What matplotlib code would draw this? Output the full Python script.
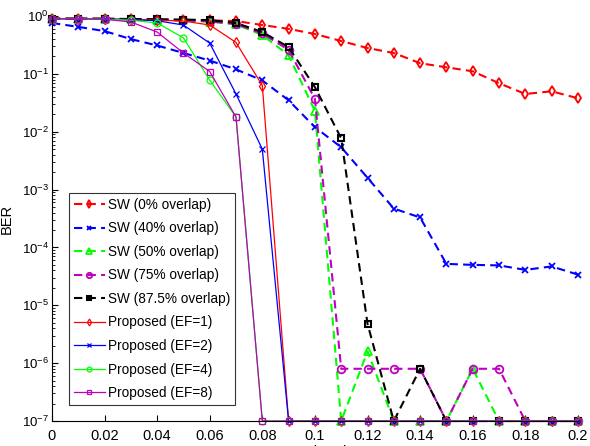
import matplotlib
matplotlib.use("Agg")
import matplotlib.pyplot as plt
from matplotlib.ticker import FixedLocator, LogLocator, NullFormatter

plt.rcParams['font.family'] = ['Liberation Sans', 'DejaVu Sans']
plt.rcParams['mathtext.fontset'] = 'custom'
plt.rcParams['mathtext.rm'] = 'Liberation Sans'
plt.rcParams['mathtext.it'] = 'Liberation Sans'

# overhead values on the x axis
overhead = [0.0, 0.01, 0.02, 0.03, 0.04, 0.05, 0.06, 0.07, 0.08, 0.09, 0.10,
            0.11, 0.12, 0.13, 0.14, 0.15, 0.16, 0.17, 0.18, 0.19, 0.20]

# sliding window curves (dashed)
sw_0 = [0.9, 0.9, 0.9, 0.88, 0.87, 0.85, 0.84, 0.82, 0.70, 0.60, 0.49,
        0.37, 0.28, 0.23, 0.153, 0.13, 0.111, 0.069, 0.045, 0.05, 0.038]
sw_40 = [0.76, 0.65, 0.55, 0.40, 0.31, 0.23, 0.17, 0.12, 0.077, 0.035, 0.012,
         0.0054, 0.0016, 0.00047, 0.00033, 5.2e-5, 5.0e-5, 4.9e-5, 4.1e-5, 4.7e-5, 3.4e-5]
sw_50 = [0.9, 0.9, 0.89, 0.88, 0.86, 0.84, 0.80, 0.72, 0.47, 0.21, 0.023,
         1e-7, 1.6e-6, 1e-7, 1e-7, 1e-7, 8e-7, 1e-7, 1e-7, 1e-7, 1e-7]
sw_75 = [0.9, 0.9, 0.89, 0.88, 0.86, 0.84, 0.81, 0.73, 0.50, 0.26, 0.037,
         8e-7, 8e-7, 8e-7, 8e-7, 1e-7, 8e-7, 8e-7, 1e-7, 1e-7, 1e-7]
sw_875 = [0.9, 0.9, 0.9, 0.89, 0.88, 0.87, 0.85, 0.76, 0.53, 0.29, 0.059,
          0.0077, 4.8e-6, 1e-7, 8e-7, 1e-7, 1e-7, 1e-7, 1e-7, 1e-7, 1e-7]

# proposed scheme curves (solid)
ef_1 = [0.9, 0.9, 0.89, 0.87, 0.85, 0.82, 0.70, 0.35, 0.063, 1e-7, 1e-7,
        1e-7, 1e-7, 1e-7, 1e-7, 1e-7, 1e-7, 1e-7, 1e-7, 1e-7, 1e-7]
ef_2 = [0.9, 0.9, 0.89, 0.87, 0.83, 0.70, 0.34, 0.045, 0.005, 1e-7, 1e-7,
        1e-7, 1e-7, 1e-7, 1e-7, 1e-7, 1e-7, 1e-7, 1e-7, 1e-7, 1e-7]
ef_4 = [0.9, 0.9, 0.88, 0.85, 0.76, 0.42, 0.078, 0.018, 1e-7, 1e-7, 1e-7,
        1e-7, 1e-7, 1e-7, 1e-7, 1e-7, 1e-7, 1e-7, 1e-7, 1e-7, 1e-7]
ef_8 = [0.9, 0.9, 0.88, 0.79, 0.53, 0.23, 0.11, 0.018, 1e-7, 1e-7, 1e-7,
        1e-7, 1e-7, 1e-7, 1e-7, 1e-7, 1e-7, 1e-7, 1e-7, 1e-7, 1e-7]

x_ticks = [0, 0.02, 0.04, 0.06, 0.08, 0.1, 0.12, 0.14, 0.16, 0.18, 0.2]
x_tick_labels = ['0', '0.02', '0.04', '0.06', '0.08', '0.1', '0.12', '0.14', '0.16', '0.18', '0.2']

fig = plt.figure(figsize=(5.9, 4.46), dpi=100)
ax = fig.add_axes([0.088, 0.056, 0.8915, 0.908])

dash = (0, (4, 2.5))
ax.plot(overhead, sw_0, color='r', ls=dash, lw=1.5, marker='d', ms=5.5, mfc='none', mew=1.3,
        label='SW (0% overlap)', clip_on=False)
ax.plot(overhead, sw_40, color='b', ls=dash, lw=1.5, marker='x', ms=4, mew=1.3,
        label='SW (40% overlap)', clip_on=False)
ax.plot(overhead, sw_50, color='#00ff00', ls=dash, lw=1.5, marker='^', ms=5.5, mfc='none', mew=1.3,
        label='SW (50% overlap)', clip_on=False)
ax.plot(overhead, sw_75, color='m', ls=dash, lw=1.5, marker='o', ms=5.5, mfc='none', mew=1.3,
        label='SW (75% overlap)', clip_on=False)
ax.plot(overhead, sw_875, color='k', ls=dash, lw=1.5, marker='s', ms=4.5, mfc='none', mew=1.5,
        label='SW (87.5% overlap)', clip_on=False)
ax.plot(overhead, ef_1, color='r', lw=0.9, marker='d', ms=5, mfc='none', mew=0.9,
        label='Proposed (EF=1)', clip_on=False)
ax.plot(overhead, ef_2, color='b', lw=0.9, marker='x', ms=4, mew=0.9,
        label='Proposed (EF=2)', clip_on=False)
ax.plot(overhead, ef_4, color='#00ff00', lw=0.9, marker='o', ms=5, mfc='none', mew=0.9,
        label='Proposed (EF=4)', clip_on=False)
ax.plot(overhead, ef_8, color='m', lw=0.9, marker='s', ms=4.5, mfc='none', mew=0.9,
        label='Proposed (EF=8)', clip_on=False)

ax.set_yscale('log')
ax.set_xlim(0, 0.2)
ax.set_ylim(1e-7, 1)
ax.xaxis.set_major_locator(FixedLocator(x_ticks))
ax.set_xticklabels(x_tick_labels)
ax.yaxis.set_major_locator(LogLocator(base=10, numticks=10))
ax.yaxis.set_minor_locator(LogLocator(base=10, subs=range(2, 10), numticks=20))
ax.yaxis.set_minor_formatter(NullFormatter())

for s in ['top', 'right']:
    ax.spines[s].set_visible(False)
ax.tick_params(which='both', direction='in')
ax.tick_params(which='major', length=4)
ax.tick_params(which='minor', length=2)
ax.tick_params(axis='x', labelsize=10.5, pad=6)
ax.tick_params(axis='y', labelsize=9.5, pad=2)

ax.set_ylabel('BER', fontsize=10.5)
ax.yaxis.set_label_coords(-0.072, 0.5)
ax.set_xlabel('Overhead', fontsize=10.5, labelpad=1)

leg = ax.legend(loc='lower left', bbox_to_anchor=(0.032, 0.04), fontsize=9.8,
                frameon=True, fancybox=False, edgecolor='k', handlelength=2.3,
                handletextpad=0.2, borderpad=0.35, labelspacing=0.7, borderaxespad=0,
                markerscale=0.7)
leg.get_frame().set_linewidth(0.8)

fig.savefig('out.png', dpi=100)
